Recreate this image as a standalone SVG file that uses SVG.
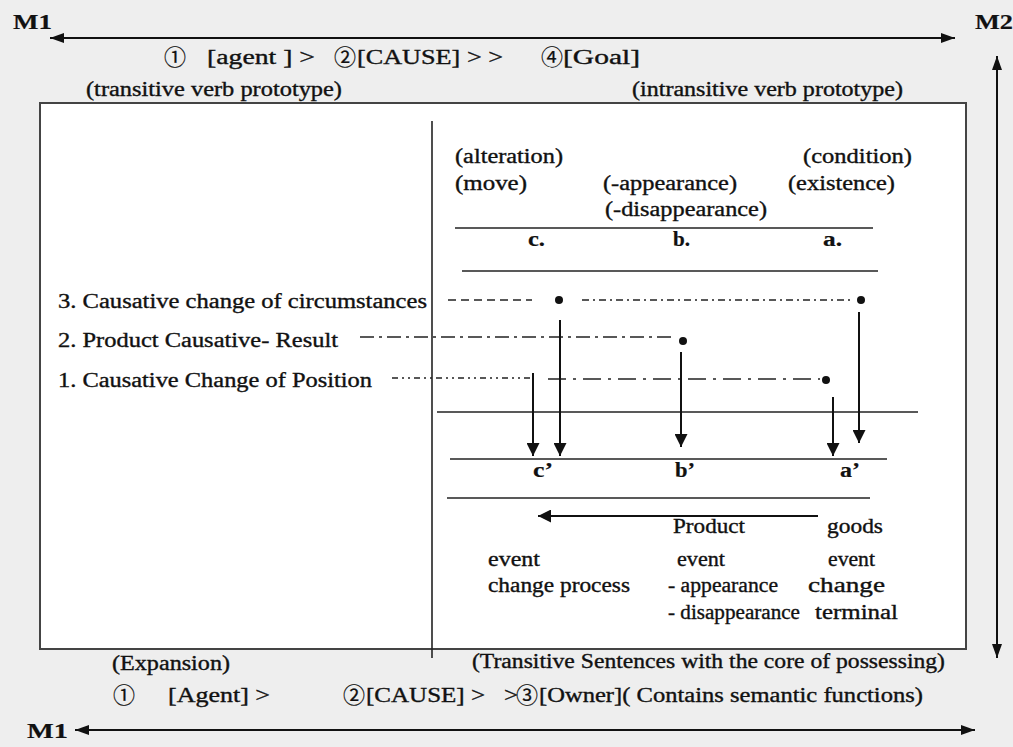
<svg xmlns="http://www.w3.org/2000/svg" width="1013" height="747" viewBox="0 0 1013 747">
<style>
text{font-family:"Liberation Serif","Times New Roman",serif;font-size:20px;fill:#111;stroke:#111;stroke-width:0.35}
.b{font-weight:bold;stroke-width:0.2}
.cd{font-family:"Noto Sans CJK JP","DejaVu Sans",sans-serif;font-size:22px;stroke-width:0.2}
.ln{stroke:#222;stroke-width:1.6;fill:none}
.ax{stroke:#111;stroke-width:2;fill:none}
</style>
<defs>
<marker id="big" viewBox="0 0 14 10" refX="14" refY="5" markerWidth="14" markerHeight="10" markerUnits="userSpaceOnUse" orient="auto-start-reverse"><path d="M0,0 L14,5 L0,10 z" fill="#111"/></marker>
<marker id="sm" viewBox="0 0 13 13" refX="13" refY="6.5" markerWidth="13" markerHeight="13" markerUnits="userSpaceOnUse" orient="auto"><path d="M0,0 L13,6.5 L0,13 z" fill="#111"/></marker>
</defs>
<rect x="0" y="0" width="1013" height="747" fill="#eeeeee"/>
<g id="frame"><rect x="40" y="103" width="926" height="546" fill="#ffffff" stroke="#444" stroke-width="2"/></g>
<g id="connectors">
<line class="ax" x1="50" y1="38" x2="955" y2="38" marker-start="url(#big)" marker-end="url(#big)"/>
<line class="ax" x1="997" y1="56" x2="997" y2="658" marker-start="url(#big)" marker-end="url(#big)"/>
<line class="ax" x1="75" y1="730" x2="975" y2="730" marker-start="url(#big)" marker-end="url(#big)"/>
<line class="ln" x1="432" y1="121" x2="432" y2="658"/>
<line class="ln" x1="455" y1="228" x2="873" y2="228"/>
<line class="ln" x1="462" y1="271" x2="878" y2="271"/>
<line class="ln" x1="437" y1="412" x2="918" y2="412"/>
<line class="ln" x1="450" y1="459" x2="887" y2="459"/>
<line class="ln" x1="447" y1="498" x2="870" y2="498"/>
<line class="ln" x1="448" y1="300" x2="532" y2="300" stroke-dasharray="8 5"/>
<line class="ln" x1="582" y1="300" x2="850" y2="300" stroke-dasharray="7 4 2 4"/>
<line class="ln" x1="360" y1="337" x2="672" y2="337" stroke-dasharray="14 5 3 5"/>
<line class="ln" x1="392" y1="378" x2="530" y2="378" stroke-dasharray="6 4 2 4 2 4"/>
<line class="ln" x1="548" y1="379" x2="820" y2="379" stroke-width="2" stroke-dasharray="18 7 3 7"/>
<circle cx="559" cy="300" r="4" fill="#111"/>
<circle cx="861" cy="300" r="4" fill="#111"/>
<circle cx="683" cy="341" r="4" fill="#111"/>
<circle cx="826" cy="380" r="4" fill="#111"/>
<line class="ax" x1="533" y1="373" x2="533" y2="456" marker-end="url(#sm)"/>
<line class="ax" x1="560" y1="320" x2="560" y2="456" marker-end="url(#sm)"/>
<line class="ax" x1="681" y1="352" x2="681" y2="447" marker-end="url(#sm)"/>
<line class="ax" x1="833" y1="397" x2="833" y2="456" marker-end="url(#sm)"/>
<line class="ax" x1="859" y1="312" x2="859" y2="443" marker-end="url(#sm)"/>
<line class="ax" x1="818" y1="516" x2="538" y2="516" marker-end="url(#sm)"/>
</g>
<g id="top-labels">
<text class="b" x="13" y="29" font-size="22" textLength="39" lengthAdjust="spacingAndGlyphs">M1</text>
<text class="b" x="975" y="29" font-size="22" textLength="38" lengthAdjust="spacingAndGlyphs">M2</text>
<text class="cd" x="164" y="65">①</text>
<text x="207" y="64" textLength="108" lengthAdjust="spacingAndGlyphs">[agent ] &gt;</text>
<text class="cd" x="334" y="65">②</text>
<text x="357" y="64" textLength="146" lengthAdjust="spacingAndGlyphs">[CAUSE] &gt; &gt;</text>
<text class="cd" x="541" y="65">④</text>
<text x="563" y="64" textLength="77" lengthAdjust="spacingAndGlyphs">[Goal]</text>
<text x="86" y="96" textLength="256" lengthAdjust="spacingAndGlyphs">(transitive verb prototype)</text>
<text x="632" y="96" textLength="271" lengthAdjust="spacingAndGlyphs">(intransitive verb prototype)</text>
</g>
<g id="header-a">
<text x="803" y="163" textLength="109" lengthAdjust="spacingAndGlyphs">(condition)</text>
<text x="788" y="190" textLength="107" lengthAdjust="spacingAndGlyphs">(existence)</text>
<text class="b" x="823" y="246" textLength="19" lengthAdjust="spacingAndGlyphs">a.</text>
</g>
<g id="header-b">
<text x="603" y="190" textLength="134" lengthAdjust="spacingAndGlyphs">(-appearance)</text>
<text x="605" y="216" textLength="162" lengthAdjust="spacingAndGlyphs">(-disappearance)</text>
<text class="b" x="673" y="246" textLength="17" lengthAdjust="spacingAndGlyphs">b.</text>
</g>
<g id="header-c">
<text x="455" y="163" textLength="108" lengthAdjust="spacingAndGlyphs">(alteration)</text>
<text x="455" y="190" textLength="72" lengthAdjust="spacingAndGlyphs">(move)</text>
<text class="b" x="528" y="246" textLength="17" lengthAdjust="spacingAndGlyphs">c.</text>
</g>
<g id="row-3">
<text x="58" y="308" textLength="369" lengthAdjust="spacingAndGlyphs">3.  Causative change of circumstances</text>
</g>
<g id="row-2">
<text x="58" y="347" textLength="280" lengthAdjust="spacingAndGlyphs">2.  Product Causative- Result</text>
</g>
<g id="row-1">
<text x="58" y="387" textLength="314" lengthAdjust="spacingAndGlyphs">1.  Causative Change of Position</text>
</g>
<g id="result-c">
<text class="b" x="533" y="477" textLength="20" lengthAdjust="spacingAndGlyphs">c’</text>
<text x="488" y="566" textLength="52" lengthAdjust="spacingAndGlyphs">event</text>
<text x="488" y="592" textLength="142" lengthAdjust="spacingAndGlyphs">change process</text>
</g>
<g id="result-b">
<text class="b" x="675" y="477" textLength="20" lengthAdjust="spacingAndGlyphs">b’</text>
<text x="673" y="533" textLength="72" lengthAdjust="spacingAndGlyphs">Product</text>
<text x="677" y="566" textLength="48" lengthAdjust="spacingAndGlyphs">event</text>
<text x="668" y="592" textLength="110" lengthAdjust="spacingAndGlyphs">- appearance</text>
<text x="668" y="619" textLength="132" lengthAdjust="spacingAndGlyphs">- disappearance</text>
</g>
<g id="result-a">
<text class="b" x="840" y="477" textLength="20" lengthAdjust="spacingAndGlyphs">a’</text>
<text x="827" y="533" textLength="56" lengthAdjust="spacingAndGlyphs">goods</text>
<text x="828" y="566" textLength="47" lengthAdjust="spacingAndGlyphs">event</text>
<text x="808" y="592" textLength="77" lengthAdjust="spacingAndGlyphs">change</text>
<text x="815" y="619" textLength="83" lengthAdjust="spacingAndGlyphs">terminal</text>
</g>
<g id="bottom-labels">
<text x="112" y="670" textLength="118" lengthAdjust="spacingAndGlyphs">(Expansion)</text>
<text x="472" y="668" textLength="473" lengthAdjust="spacingAndGlyphs">(Transitive Sentences with the core of possessing)</text>
<text class="cd" x="113" y="703">①</text>
<text x="168" y="702" textLength="102" lengthAdjust="spacingAndGlyphs">[Agent]  &gt;</text>
<text class="cd" x="343" y="703">②</text>
<text x="366" y="702" textLength="119" lengthAdjust="spacingAndGlyphs">[CAUSE] &gt;</text>
<text x="504" y="702" textLength="14" lengthAdjust="spacingAndGlyphs">&gt;</text>
<text class="cd" x="516" y="703">③</text>
<text x="539" y="702" textLength="384" lengthAdjust="spacingAndGlyphs">[Owner]( Contains semantic functions)</text>
<text class="b" x="27" y="738" font-size="22" textLength="41" lengthAdjust="spacingAndGlyphs">M1</text>
</g>
</svg>
